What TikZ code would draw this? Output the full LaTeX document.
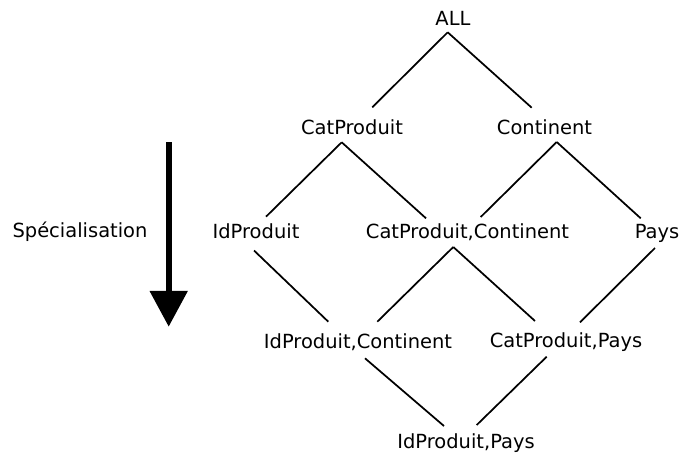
\documentclass[tikz,border=0pt]{standalone}
\usepackage{fontspec}
\setmainfont{DejaVu Sans}
\usepackage{tikz}
\usetikzlibrary{calc,arrows.meta}

\tikzset{attr/.style={font=\fontsize{14.6}{17.5}\selectfont,
		inner sep=0pt, text height=11.1pt, text depth=3.5pt}}

\begin{document}
\begin{tikzpicture}[x=0.75pt,y=-0.75pt,line width=1.3pt]
	\useasboundingbox (0,0) rectangle (679,454);

	\node[attr] (all) at (453,20) {ALL};
	\node[attr] (cat) at (352,129) {CatProduit};
	\node[attr] (cont) at (544.5,129) {Continent};
	\node[attr] (id) at (256,233) {IdProduit};
	\node[attr] (catcont) at (467.5,233) {CatProduit,Continent};
	\node[attr] (pays) at (657,233) {Pays};
	\node[attr] (idcont) at (358,343.5) {IdProduit,Continent};
	\node[attr] (catpays) at (566,342) {CatProduit,Pays};
	\node[attr] (idpays) at (466,443) {IdProduit,Pays};
	\node[attr] (spec) at (80,232) {Spécialisation};

	\draw ($(all)+(-5.3,12.3)$) -- ($(cat)+(20.3,-21.7)$);
	\draw ($(all)+(-5.3,12.3)$) -- ($(cont)+(-12.8,-21.3)$);
	\draw ($(cat)+(-10.3,13.3)$) -- ($(id)+(10,-16.3)$);
	\draw ($(cat)+(-10.3,13.3)$) -- ($(catcont)+(-41.5,-14.7)$);
	\draw ($(cont)+(12.2,13)$) -- ($(catcont)+(13.2,-16)$);
	\draw ($(cont)+(12.2,13)$) -- ($(pays)+(-16.3,-14.7)$);
	\draw ($(id)+(-2,17.5)$) -- ($(idcont)+(-29.7,-21.8)$);
	\draw ($(catcont)+(-14.2,14)$) -- ($(idcont)+(19.3,-21.8)$);
	\draw ($(catcont)+(-14.2,14)$) -- ($(catpays)+(-31,-21)$);
	\draw ($(pays)+(-2,15)$) -- ($(catpays)+(14,-19.7)$);
	\draw ($(idcont)+(7,14.8)$) -- ($(idpays)+(-22,-17)$);
	\draw ($(catpays)+(-19.3,14.7)$) -- ($(idpays)+(10.7,-18)$);

	% fleche
	\coordinate (haut) at (168.7,142.3);
	\coordinate (bas) at (168.7,326.7);
	\draw[line width=4.5pt,-{Triangle[width=27.5pt,length=26.8pt]}] (haut) -- (bas);
\end{tikzpicture}
\end{document}
